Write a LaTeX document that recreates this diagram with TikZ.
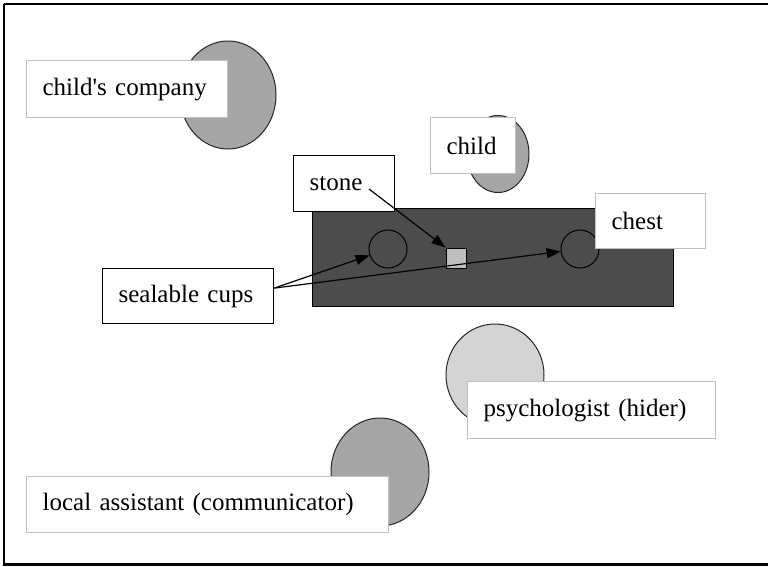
\documentclass[tikz,border=0pt]{standalone}
\usepackage{fontspec}
\setmainfont{Liberation Serif}
\usetikzlibrary{arrows.meta, shapes.geometric}

\begin{document}
\begin{tikzpicture}[x=1pt, y=-1pt,
  font=\fontsize{25}{30}\selectfont,
  lbl/.style={draw=black!25, line width=1.2pt, fill=white, anchor=north west,
              inner xsep=16pt, inner ysep=0pt, align=left},
  tag/.style={lbl, draw=black},
  body/.style={ellipse, draw=black!85, line width=1pt, inner sep=0pt},
  cup/.style={circle, draw=black, line width=1pt, fill=black!70,
              minimum size=38pt, inner sep=0pt},
  ptr/.style={-{Triangle[length=14pt, width=10pt]}, line width=1.2pt}
]
  \useasboundingbox (0,0) rectangle (768,566);
  % frame (open on the right)
  \draw[line width=2pt] (768,4) -- (4,4);
  \draw[line width=1.5pt] (4,4) -- (4,564);
  \draw[line width=3pt] (3.25,564) -- (768,564);

  % people
  \node[body, fill=black!35, minimum width=96pt, minimum height=108pt] (comp) at (228,95) {};
  \node[body, fill=black!35, minimum width=62pt, minimum height=77pt] (kid) at (498,154) {};
  \node[body, fill=black!17, minimum width=98pt, minimum height=102pt] (psy) at (495,375) {};
  \node[body, fill=black!35, minimum width=98pt, minimum height=108pt] (asst) at (380,472) {};

  % chest with cups and stone
  \node[draw=black, line width=1.2pt, fill=black!70, anchor=north west, inner sep=0pt,
        minimum width=361pt, minimum height=98pt] (chest) at (312,208) {};
  \node[cup] (cupl) at (388,249) {};
  \node[cup] (cupr) at (580,249) {};
  \node[draw=black, line width=1pt, fill=black!25, minimum size=20pt, inner sep=0pt] (pebble) at (456,258) {};

  \node[lbl, text width=169pt, minimum height=57pt] (compl) at (26,60) {child\textquotesingle s company};
  \node[lbl, text width=53pt, minimum height=56pt] (kidl) at (430,117) {child};
  \node[tag, text width=69pt, minimum height=56pt] (stonel) at (293,155) {stone};
  \node[lbl, text width=78pt, minimum height=55pt] (chestl) at (595,193) {chest};
  \node[tag, text width=139pt, minimum height=55pt] (cupsl) at (102,268) {sealable cups};
  \node[lbl, text width=216pt, minimum height=57pt] (psyl) at (467,381) {psychologist (hider)};
  \node[lbl, text width=330pt, minimum height=56pt] (asstl) at (26,476) {local assistant (communicator)};

  \coordinate (stonetail) at (369,189);
  \draw[ptr] (stonetail) -- (pebble.north west);
  \draw[ptr] ([yshift=8pt]cupsl.east) -- (cupl);
  \draw[ptr] ([yshift=8pt]cupsl.east) -- (cupr);
\end{tikzpicture}
\end{document}
